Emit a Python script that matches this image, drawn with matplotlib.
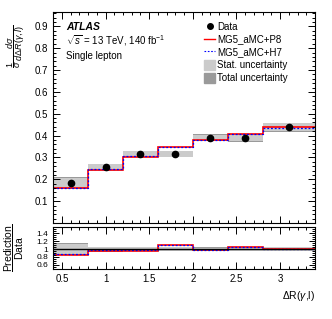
import matplotlib
matplotlib.use("Agg")
import matplotlib.pyplot as plt
import numpy as np
from matplotlib.lines import Line2D
from matplotlib.patches import Patch
from matplotlib.ticker import MultipleLocator

plt.rcParams['font.family'] = ['Liberation Sans', 'DejaVu Sans']
plt.rcParams['mathtext.fontset'] = 'custom'
plt.rcParams['mathtext.rm'] = 'Liberation Sans'
plt.rcParams['mathtext.it'] = 'Liberation Sans:italic'
plt.rcParams['mathtext.bf'] = 'Liberation Sans:bold'

# bins in dR(gamma, l)
edges = [0.4, 0.8, 1.2, 1.6, 2.0, 2.4, 2.8, 3.4]
data = [0.184, 0.254, 0.316, 0.316, 0.391, 0.390, 0.438]
stat = [0.024, 0.014, 0.013, 0.013, 0.013, 0.017, 0.018]
total = [0.028, 0.016, 0.015, 0.015, 0.015, 0.019, 0.020]
p8 = [0.158, 0.242, 0.303, 0.348, 0.382, 0.408, 0.438]
h7 = [0.162, 0.246, 0.305, 0.350, 0.382, 0.409, 0.436]

edges = np.array(edges)
centers = 0.5 * (edges[1:] + edges[:-1])
data = np.array(data)
stat = np.array(stat)
total = np.array(total)
p8 = np.array(p8)
h7 = np.array(h7)

c_stat = '#cbcbcb'
c_tot = '#9a9a9a'

fig = plt.figure(figsize=(3.32, 3.19), dpi=100)
ax = fig.add_axes([0.16, 0.301, 0.789, 0.661])
rx = fig.add_axes([0.16, 0.157, 0.789, 0.131])

# main panel
for i in range(len(data)):
    ax.fill_between(edges[i:i+2], data[i] - total[i], data[i] + total[i], color=c_tot, lw=0)
    ax.fill_between(edges[i:i+2], data[i] - stat[i], data[i] + stat[i], color=c_stat, lw=0)
ax.stairs(p8, edges, color='red', lw=1.2, baseline=None)
ax.stairs(h7, edges, color='blue', lw=0.9, ls=(0, (1.5, 1.5)), baseline=None)
ax.plot(centers, data, 'o', color='black', ms=4.5)

ax.set_xlim(0.4, 3.4)
ax.set_ylim(0.0, 0.965)
ax.set_yticks([0.1, 0.2, 0.3, 0.4, 0.5, 0.6, 0.7, 0.8, 0.9])
ax.yaxis.set_minor_locator(MultipleLocator(0.02))
ax.xaxis.set_major_locator(MultipleLocator(0.5))
ax.xaxis.set_minor_locator(MultipleLocator(0.1))
ax.tick_params(labelbottom=False)
ax.set_ylabel(r'$\dfrac{1}{\sigma}\,\dfrac{d\sigma}{d\Delta R(\gamma,l)}$', fontsize=6.5)
ax.yaxis.set_label_coords(-0.1, 0.84, transform=ax.transAxes)

ax.text(0.05, 0.915, 'ATLAS', transform=ax.transAxes, fontsize=7.5,
        fontweight='bold', fontstyle='italic')
ax.text(0.05, 0.845, r'$\sqrt{s}$ = 13 TeV, 140 fb$^{-1}$', transform=ax.transAxes, fontsize=7)
ax.text(0.05, 0.78, 'Single lepton', transform=ax.transAxes, fontsize=7)

handles = [
    Line2D([], [], marker='o', color='black', ls='none', ms=4),
    Line2D([], [], color='red', lw=1.0),
    Line2D([], [], color='blue', lw=0.8, ls=(0, (1.5, 1.5))),
    Patch(color=c_stat),
    Patch(color=c_tot),
]
labels = ['Data', 'MG5_aMC+P8', 'MG5_aMC+H7', 'Stat. uncertainty', 'Total uncertainty']
ax.legend(handles, labels, loc='upper left', bbox_to_anchor=(0.575, 0.955), frameon=False,
          fontsize=7, handlelength=1.2, handleheight=1.1, handletextpad=0.15,
          labelspacing=0.3, borderpad=0.0, borderaxespad=0.0)

# ratio panel
rp8 = p8 / data
rh7 = h7 / data
for i in range(len(data)):
    ax_t = total[i] / data[i]
    ax_s = stat[i] / data[i]
    rx.fill_between(edges[i:i+2], 1 - ax_t, 1 + ax_t, color=c_tot, lw=0)
    rx.fill_between(edges[i:i+2], 1 - ax_s, 1 + ax_s, color=c_stat, lw=0)
rx.axhline(1.0, color='black', lw=1.0)
rx.stairs(rp8, edges, color='red', lw=1.2, baseline=None)
rx.stairs(rh7, edges, color='blue', lw=0.9, ls=(0, (1.5, 1.5)), baseline=None)

rx.set_xlim(0.4, 3.4)
rx.set_ylim(0.5, 1.55)
rx.set_yticks([0.6, 0.8, 1.0, 1.2, 1.4])
rx.set_yticklabels(['0.6', '0.8', '1', '1.2', '1.4'], fontsize=6)
rx.yaxis.set_minor_locator(MultipleLocator(0.05))
rx.xaxis.set_minor_locator(MultipleLocator(0.1))
rx.set_xticks([0.5, 1, 1.5, 2, 2.5, 3])
rx.set_xticklabels(['0.5', '1', '1.5', '2', '2.5', '3'])
rx.set_ylabel(r'$\dfrac{\mathrm{Prediction}}{\mathrm{Data}}$', fontsize=7.5)
rx.yaxis.set_label_coords(-0.105, 0.5, transform=rx.transAxes)
rx.set_xlabel(r'$\Delta$R($\gamma$,l)', fontsize=7.5, loc='right')

for a in (ax, rx):
    a.tick_params(which='both', direction='in', top=True, right=True, labelsize=7, width=0.7)
    a.tick_params(which='major', length=5)
    a.tick_params(which='minor', length=2.5)
    for s in a.spines.values():
        s.set_linewidth(0.8)
rx.tick_params(axis='y', labelsize=6)
rx.tick_params(axis='y', which='major', length=4)
rx.tick_params(axis='y', which='minor', length=2)

fig.savefig('out.png', dpi=100)
